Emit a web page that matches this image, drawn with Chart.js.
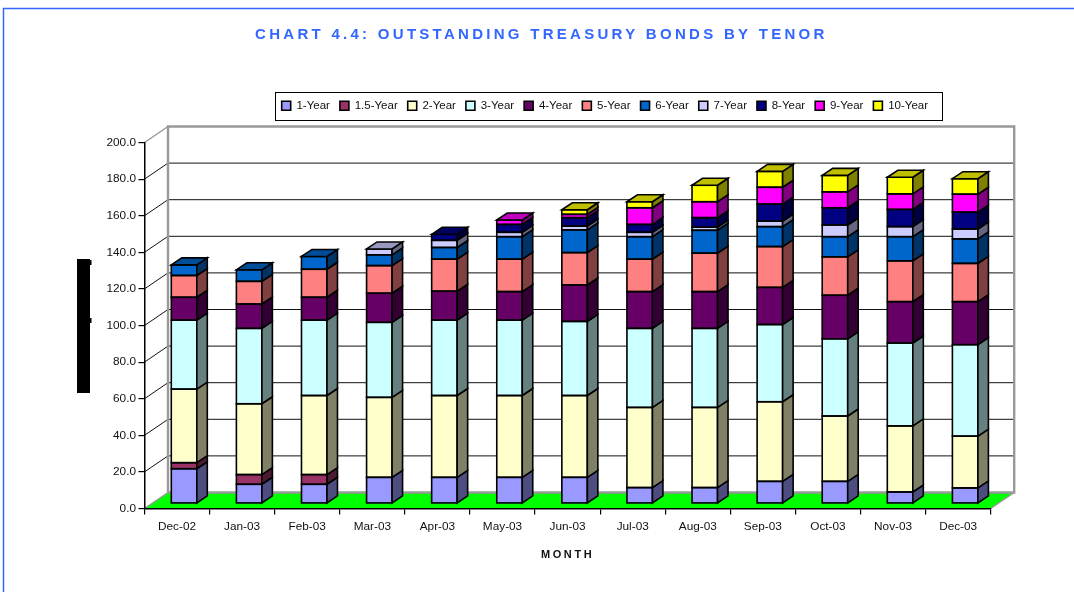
<!DOCTYPE html>
<html>
<head>
<meta charset="utf-8">
<style>html,body{margin:0;padding:0;background:#fff}canvas{display:block}</style>
<script src="https://cdn.jsdelivr.net/npm/chart.js@4/dist/chart.umd.js"></script>
</head>
<body>
<canvas id="c" width="1074" height="592"></canvas>
<script>
const months = ["Dec-02","Jan-03","Feb-03","Mar-03","Apr-03","May-03","Jun-03","Jul-03","Aug-03","Sep-03","Oct-03","Nov-03","Dec-03"];
const y1   = [19,10.5,10.5,14.3,14.3,14.3,14.3,8.7,8.7,12.1,12.1,6.3,8.5];
const y1_5 = [3.3,5.3,5.3,0,0,0,0,0,0,0,0,0,0];
const y2   = [40.2,38.7,43.2,43.7,44.7,44.7,44.7,43.8,43.8,43.5,35.7,36.1,28.3];
const y3   = [37.7,41.2,41.2,41,41.2,41.2,40.5,43.2,43.2,42.2,42.2,45.3,50];
const y4   = [12.5,13.3,12.5,15.9,15.8,15.6,19.9,20.1,20.1,20.3,23.8,22.6,23.5];
const y5   = [11.9,12.4,15.3,15.1,17.5,17.7,17.7,17.7,21,22.3,21,22.3,20.9];
const y6   = [5.8,6.3,7,5.9,6.4,12.3,12.4,12.3,12.5,10.9,11,13.2,13.4];
const y7   = [0,0,0,3.2,3.9,2.4,2.1,2.4,1.7,3,6.4,5.5,5.4];
const y8   = [0,0,0,0,3.3,4.3,4.6,4.3,5.2,9.3,9.4,9.4,9.2];
const y9   = [0,0,0,0,0,2.4,1.8,9.1,8.7,9.2,8.7,8.5,9.8];
const y10  = [0,0,0,0,0,0,2.5,3.3,9,8.7,9,9.1,8.5];
const seriesNames = ["1-Year","1.5-Year","2-Year","3-Year","4-Year","5-Year","6-Year","7-Year","8-Year","9-Year","10-Year"];
const seriesValues = [y1,y1_5,y2,y3,y4,y5,y6,y7,y8,y9,y10];
const colors = [[153,153,255],[153,51,102],[255,255,204],[204,255,255],[102,0,102],[255,128,128],[0,102,204],[204,204,255],[0,0,128],[255,0,255],[255,255,0]];
const titleText = "CHART 4.4: OUTSTANDING TREASURY BONDS BY TENOR";
const xTitle = "MONTH";

const FONT = "'Liberation Sans', Arial, sans-serif";
const rgb = (c,f)=>`rgb(${Math.round(c[0]*f)},${Math.round(c[1]*f)},${Math.round(c[2]*f)})`;
const WALL_DX = 23.5, WALL_DY = 16;      // depth of the back wall
const BAR_DX = 7, BAR_DY = -5;           // bars stand inside the floor
const SIDE_DX = 10.5, SIDE_DY = 7;       // depth of each bar

const scene = {
  id:'scene',
  afterLayout(chart){
    const lg = chart.legend, tb = chart.titleBlock;
    lg.left += 109.5; lg.right += 109.5;
    const h = lg.bottom - lg.top; lg.top = 90; lg.bottom = 90 + h;
    tb.left += 46; tb.right += 46;
    if(!tb._ls){
      tb._ls = true;
      const d = tb.draw;
      tb.draw = function(){ const c=this.ctx; c.save(); c.letterSpacing='3.28px'; d.call(this); c.restore(); };
      const sx = chart.scales.x, dt = sx.drawTitle;
      sx.drawTitle = function(){ const c=this.ctx; c.save(); c.letterSpacing='2.6px'; dt.call(this); c.restore(); };
    }
  },
  beforeDraw(chart){
    const c = chart.ctx, a = chart.chartArea, ys = chart.scales.y;
    c.save();
    // page frame
    c.strokeStyle = '#3366ff'; c.lineWidth = 1.5;
    c.beginPath(); c.moveTo(3.5,592); c.lineTo(3.5,8.5); c.lineTo(1074,8.5); c.stroke();
    // legend frame
    c.strokeStyle = '#000'; c.lineWidth = 1;
    c.strokeRect(275.5,92.5,667,28);
    // floor
    const bx = a.left+WALL_DX, rx = a.right+WALL_DX, by = a.bottom-WALL_DY, ty = a.top-WALL_DY;
    c.fillStyle = '#00ff00';
    c.beginPath(); c.moveTo(a.left,a.bottom); c.lineTo(bx,by); c.lineTo(rx,by); c.lineTo(a.right,a.bottom); c.closePath(); c.fill();
    // gridlines on walls
    c.strokeStyle = '#111'; c.lineWidth = 1;
    ys.ticks.forEach(t=>{
      if(t.value===0||t.value===200) return;
      const y = ys.getPixelForValue(t.value);
      c.beginPath(); c.moveTo(a.left,y); c.lineTo(bx,y-WALL_DY); c.lineTo(rx,y-WALL_DY); c.stroke();
    });
    // grey wall outline
    c.strokeStyle = '#999'; c.lineWidth = 2.4;
    c.beginPath(); c.moveTo(bx,by); c.lineTo(bx,ty); c.lineTo(rx,ty); c.lineTo(rx,by); c.lineTo(bx,by); c.stroke();
    c.lineWidth = 1.5;
    c.beginPath(); c.moveTo(a.left,a.top); c.lineTo(bx,ty); c.stroke();
    c.beginPath(); c.moveTo(a.left,a.bottom); c.lineTo(bx,by); c.stroke();
    c.beginPath(); c.moveTo(a.right,a.bottom); c.lineTo(rx,by); c.stroke();
    // black block standing where the rotated axis title was
    c.fillStyle = '#000';
    c.fillRect(77,259,13,134);
    c.fillRect(90,260,1.5,5); c.fillRect(90,318,1.5,5);
    c.restore();
  },
  beforeDatasetsDraw(chart){
    chart.ctx.save();
    chart.ctx.translate(BAR_DX,BAR_DY);
  },
  afterDatasetsDraw(chart){
    const c = chart.ctx;
    c.lineWidth = 1.6; c.strokeStyle = '#000'; c.lineJoin = 'miter';
    months.forEach((m,i)=>{
      let topEl = null, topCol = null;
      seriesValues.forEach((vals,s)=>{
        if(!vals[i]) return;
        const el = chart.getDatasetMeta(s).data[i];
        const p = el.getProps(['x','y','base','width'],true);
        const l = p.x-p.width/2, r = p.x+p.width/2;
        c.strokeRect(l,p.y,p.width,p.base-p.y);
        c.fillStyle = rgb(colors[s],0.5);
        c.beginPath(); c.moveTo(r,p.y); c.lineTo(r+SIDE_DX,p.y-SIDE_DY); c.lineTo(r+SIDE_DX,p.base-SIDE_DY); c.lineTo(r,p.base); c.closePath();
        c.fill(); c.stroke();
        topEl = p; topCol = colors[s];
      });
      if(topEl){
        const l = topEl.x-topEl.width/2, r = topEl.x+topEl.width/2, y = topEl.y;
        c.fillStyle = rgb(topCol,0.75);
        c.beginPath(); c.moveTo(l,y); c.lineTo(l+SIDE_DX,y-SIDE_DY); c.lineTo(r+SIDE_DX,y-SIDE_DY); c.lineTo(r,y); c.closePath();
        c.fill(); c.stroke();
      }
    });
    c.restore();
  }
};

new Chart(document.getElementById('c'),{
  type:'bar',
  data:{
    labels:months,
    datasets:seriesNames.map((n,s)=>({
      label:n,
      data:seriesValues[s],
      backgroundColor:rgb(colors[s],1),
      borderColor:'#000',
      borderWidth:0,
      barThickness:25.5,
      clip:false
    }))
  },
  options:{
    responsive:false,
    animation:false,
    layout:{padding:{left:0,right:83.3,top:0,bottom:0}},
    scales:{
      x:{
        stacked:true,
        afterFit(s){ s.height = 83.5; },
        border:{color:'#000',width:1.5},
        grid:{drawOnChartArea:false,tickLength:6,color:'#000',lineWidth:1.2},
        ticks:{font:{family:FONT,size:11.8},color:'#111',padding:5,maxRotation:0,autoSkip:false},
        title:{display:true,text:xTitle,color:'#111',font:{family:FONT,size:11,weight:'bold'},padding:{top:4,bottom:30}}
      },
      y:{
        stacked:true,min:0,max:200,
        afterFit(s){ s.width = 144.5; },
        border:{color:'#000',width:1.5},
        grid:{drawOnChartArea:false,tickLength:6,color:'#000',lineWidth:1.2},
        ticks:{stepSize:20,font:{family:FONT,size:11.8},color:'#111',padding:2.5,callback:v=>Number(v).toFixed(1)}
      }
    },
    plugins:{
      tooltip:{enabled:false},
      title:{display:true,text:titleText,color:'#3366ff',font:{family:FONT,size:15,weight:'bold'},padding:{top:26,bottom:67}},
      legend:{
        display:true,position:'top',
        labels:{
          boxWidth:9,boxHeight:9,padding:10,color:'#111',font:{family:FONT,size:11.5},
          generateLabels(chart){
            return Chart.defaults.plugins.legend.labels.generateLabels(chart).map(l=>({...l,strokeStyle:'#000',lineWidth:1.6}));
          }
        }
      }
    }
  },
  plugins:[scene]
});
</script>
</body>
</html>
